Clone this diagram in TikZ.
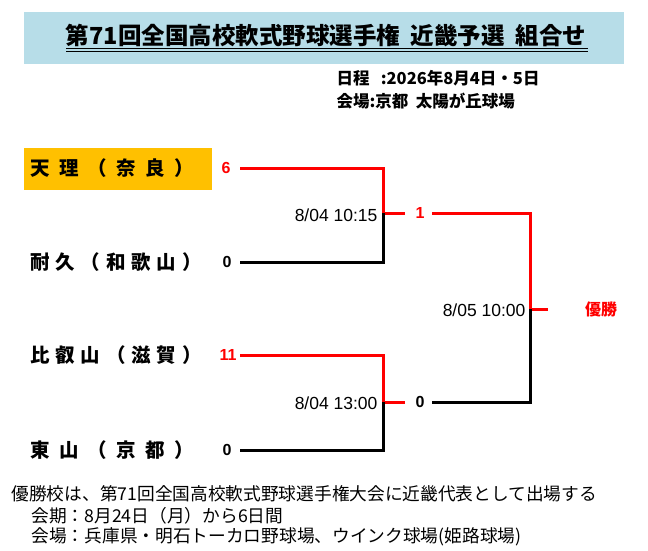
\documentclass[tikz,border=0pt]{standalone}
\usepackage{fontspec}
\setmainfont{Noto Sans CJK JP}
\newfontfamily\lat{Liberation Sans}
\begin{document}
\begin{tikzpicture}[x=1pt,y=-1pt,
  red/.style={draw={rgb,255:red,255;green,0;blue,0},line width=3pt},
  blk/.style={draw=black,line width=3pt},
  team/.style={anchor=west,inner sep=0pt,font=\fontsize{19.5}{20}\selectfont\bfseries},
  sc/.style={font=\fontsize{16}{16}\selectfont\lat\bfseries},
  tm/.style={anchor=east,font=\fontsize{17.5}{17}\selectfont\lat},
  ft/.style={anchor=west,font=\fontsize{17.7}{17}\selectfont}]
\definecolor{tbl}{RGB}{183,221,232}
\definecolor{org}{RGB}{255,192,0}
\definecolor{rd}{RGB}{255,0,0}
\useasboundingbox (0,0) rectangle (648,551);
\fill[tbl] (24,12) rectangle (624,64);
\node (title) at (326,36) {\fontsize{23.5}{24}\selectfont\bfseries 第71回全国高校軟式野球選手権\ \ 近畿予選\ \ 組合せ};
\draw[line width=0.8pt] (66,48) -- (588,48);
\draw[line width=0.6pt] (66,51) -- (588,51);
\node[anchor=west,font=\fontsize{16.5}{16}\selectfont\bfseries] (d1) at (333,78) {日程\ \ \ :2026年8月4日・5日};
\node[anchor=west,font=\fontsize{16.5}{16}\selectfont\bfseries] (d2) at (333,101) {会場:京都\ \ 太陽が丘球場};
\fill[org] (24,148) rectangle (212,190);
\node[team] (t1) at (30,168) {\addfontfeature{LetterSpace=48}天理（奈良）};
\node[team] (t2) at (30,262) {\addfontfeature{LetterSpace=30}耐久（和歌山）};
\node[team] (t3) at (30,355) {\addfontfeature{LetterSpace=30}比叡山（滋賀）};
\node[team] (t4) at (30,450) {\addfontfeature{LetterSpace=48}東山（京都）};
\node[sc,text=rd] (s1) at (226,168) {6};
\node[sc] (s2) at (227,262) {0};
\node[sc,text=rd] (s3) at (228,355) {11};
\node[sc] (s4) at (227,450) {0};
\coordinate (a1) at (240,168); \coordinate (a2) at (240,262);
\coordinate (a3) at (240,355); \coordinate (a4) at (240,450);
\coordinate (m1) at (383,213); \coordinate (m2) at (383,402);
\draw[red] (a1) -- (383,168) -- (m1) -- (405,213);
\draw[blk] (m1) -- (383,262) -- (a2);
\draw[red] (a3) -- (383,355) -- (m2) -- (405,402);
\draw[blk] (m2) -- (383,450) -- (a4);
\node[sc,text=rd] (w1) at (420,213) {1};
\node[sc] (w2) at (420,402) {0};
\coordinate (f) at (530,309);
\draw[red] (432,213) -- (530,213) -- (f) -- (548,309);
\draw[blk] (f) -- (530,402) -- (432,402);
\node[tm] (k1) at (381,215) {8/04 10:15};
\node[tm] (k2) at (381,403) {8/04 13:00};
\node[tm] (k3) at (529,310) {8/05 10:00};
\node[font=\fontsize{16}{16}\selectfont\bfseries,text=rd] (win) at (601,309) {優勝};
\node[ft] (f1) at (8,494) {優勝校は、第71回全国高校軟式野球選手権大会に近畿代表として出場する};
\node[ft] (f2) at (28,516) {会期：8月24日（月）から6日間};
\node[ft] (f3) at (28,537) {会場：兵庫県・明石トーカロ野球場、ウインク球場(姫路球場)};
\end{tikzpicture}
\end{document}
